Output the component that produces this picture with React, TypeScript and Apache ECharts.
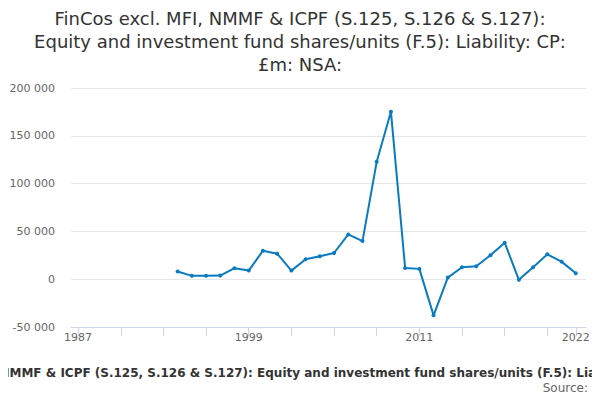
import React, { useEffect, useRef } from "react";
import * as echarts from "echarts";

const years: number[] = [
  1994, 1995, 1996, 1997, 1998, 1999, 2000, 2001, 2002, 2003,
  2004, 2005, 2006, 2007, 2008, 2009, 2010, 2011, 2012, 2013,
  2014, 2015, 2016, 2017, 2018, 2019, 2020, 2021, 2022,
];

const values: number[] = [
  8000, 3500, 3500, 3800, 11500, 9000, 29800, 26700, 9000, 20800,
  24000, 27400, 46800, 39900, 122800, 175200, 11800, 10800, -37800, 1700,
  12500, 13500, 25000, 38200, -700, 12500, 26000, 18400, 6200,
];

const xLabelYears: number[] = [1987, 1999, 2011, 2022];
const xTickYears: number[] = [1987, 1990, 1993, 1996, 1999, 2002, 2005, 2008, 2011, 2014, 2017, 2020, 2022];

const seriesName =
  "FinCos excl. MFI, NMMF & ICPF (S.125, S.126 & S.127): Equity and investment fund shares/units (F.5): Liability: CP: £m: NSA:";
const titleText =
  "FinCos excl. MFI, NMMF & ICPF (S.125, S.126 & S.127):\nEquity and investment fund shares/units (F.5): Liability: CP:\n£m: NSA:";

const fmt = (v: number) => {
  const s = Math.abs(v).toString().replace(/\B(?=(\d{3})+(?!\d))/g, " ");
  return (v < 0 ? "-" : "") + s;
};

export default function App() {
  const ref = useRef<HTMLDivElement>(null);
  useEffect(() => {
    if (!ref.current) return;
    const chart = echarts.init(ref.current, undefined, { renderer: "svg" });
    chart.setOption({
      animation: false,
      textStyle: { fontFamily: "DejaVu Sans" },
      grid: { left: 71, right: 14, top: 88, bottom: 73, containLabel: false },
      xAxis: {
        type: "value",
        min: 1986.5,
        max: 2022.72,
        axisLine: { show: true, onZero: false, lineStyle: { color: "#ccd6eb" } },
        axisTick: {
          show: true,
          length: 9,
          lineStyle: { color: "#ccd6eb" },
          customValues: xTickYears,
        },
        axisLabel: {
          color: "#666666",
          fontSize: 11,
          margin: 5,
          customValues: xLabelYears,
          formatter: (v: number) => String(v),
        },
        splitLine: { show: false },
      },
      yAxis: {
        type: "value",
        min: -50000,
        max: 200000,
        interval: 50000,
        axisLine: { show: false },
        axisTick: { show: false },
        axisLabel: {
          color: "#666666",
          fontSize: 11,
          margin: 16,
          formatter: (v: number) => fmt(v),
        },
        splitLine: { lineStyle: { color: "#e6e6e6" } },
      },
      series: [
        {
          name: seriesName,
          type: "line",
          data: years.map((y, i) => [y, values[i]]),
          symbol: "circle",
          symbolSize: 4,
          showSymbol: true,
          lineStyle: { color: "#0a7bc1", width: 2 },
          itemStyle: { color: "#0a7bc1" },
        },
      ],
      graphic: [
        {
          type: "text",
          x: 300,
          y: 7,
          style: {
            text: titleText,
            textAlign: "center",
            textVerticalAlign: "top",
            fontSize: 18,
            lineHeight: 23,
            fill: "#333333",
            fontFamily: "DejaVu Sans",
          },
        },
        {
          type: "text",
          x: 305,
          y: 367,
          style: {
            text: seriesName,
            textAlign: "center",
            textVerticalAlign: "top",
            fontSize: 12,
            fontWeight: "bold",
            fill: "#333333",
            fontFamily: "DejaVu Sans",
          },
        },
        {
          type: "text",
          x: 588,
          y: 382,
          style: {
            text: "Source:",
            textAlign: "right",
            textVerticalAlign: "top",
            fontSize: 12,
            fill: "#666666",
            fontFamily: "DejaVu Sans",
          },
        },
      ],
    });
    return () => chart.dispose();
  }, []);
  return <div ref={ref} style={{ width: 600, height: 400, margin: -8 }} />;
}
